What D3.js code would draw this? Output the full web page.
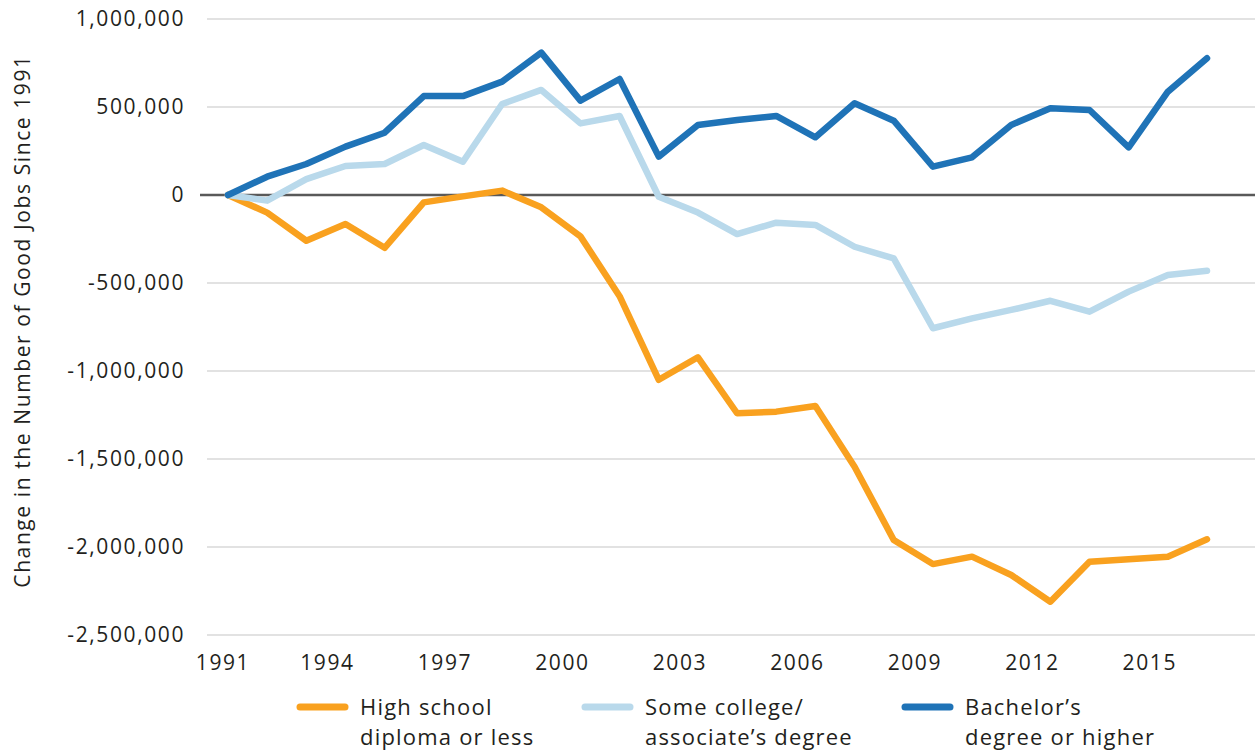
<!DOCTYPE html>
<html>
<head>
<meta charset="utf-8">
<script src="https://cdn.jsdelivr.net/npm/d3@7"></script>
<style>
  body { margin: 0; background: #fff; }
  text { font-family: "Open Sans", sans-serif; fill: #231f20; letter-spacing: 1.6px; }
</style>
</head>
<body>
<div id="chart"></div>
<script>
// years on the x axis
const years = d3.range(1991, 2017)
// the three series, change in good jobs since 1991
const highSchool = [0, -100000, -260000, -165000, -300000, -42000, -8000, 25000, -70000, -235000,
  -575000, -1050000, -922000, -1240000, -1231000, -1199000, -1544000, -1960000, -2097000, -2055000,
  -2159000, -2311000, -2084000, -2070000, -2055000, -1956000]
const someCollege = [0, -32000, 90000, 165000, 176000, 284000, 189000, 517000, 597000, 407000,
  449000, -10000, -100000, -222000, -157000, -170000, -294000, -360000, -757000, -701000,
  -653000, -601000, -663000, -549000, -455000, -430000]
const bachelors = [0, 104000, 176000, 275000, 354000, 562000, 562000, 644000, 809000, 536000,
  659000, 218000, 398000, 426000, 449000, 328000, 521000, 422000, 161000, 214000,
  398000, 493000, 483000, 271000, 587000, 777000]
const seriesNames = [["High school", "diploma or less"], ["Some college/", "associate\u2019s degree"], ["Bachelor\u2019s", "degree or higher"]]
const seriesColors = ["#f9a11f", "#b9d9eb", "#1f73b7"]
const yTicks = [1000000, 500000, 0, -500000, -1000000, -1500000, -2000000, -2500000]
const xTicks = [1991, 1994, 1997, 2000, 2003, 2006, 2009, 2012, 2015]

const width = 1255
const height = 750

const svg = d3.select('#chart').append('svg')
  .attr('width', width)
  .attr('height', height)

const xScale = d3.scaleLinear().domain([1991, 2016]).range([228, 1207])
const yScale = d3.scaleLinear().domain([-2500000, 1000000]).range([635, 19])

// gridlines
svg.append('g').selectAll('line')
  .data(yTicks.filter(d => d !== 0))
  .join('line')
  .attr('x1', 207).attr('x2', width)
  .attr('y1', d => yScale(d)).attr('y2', d => yScale(d))
  .attr('stroke', '#d9d9d9').attr('stroke-width', 1.5)

// zero line
svg.append('line')
  .attr('x1', 200).attr('x2', width)
  .attr('y1', yScale(0)).attr('y2', yScale(0))
  .attr('stroke', '#595959').attr('stroke-width', 2.5)

// y tick labels
const fmt = d3.format(',')
svg.append('g').selectAll('text')
  .data(yTicks)
  .join('text')
  .attr('x', 185)
  .attr('y', d => yScale(d))
  .attr('dy', '0.35em')
  .attr('text-anchor', 'end')
  .attr('font-size', 21)
  .text(d => d === 0 ? '0' : fmt(d).replace('\u2212', '-'))

// x tick labels, sit a little left of the points like the original
svg.append('g').selectAll('text')
  .data(xTicks)
  .join('text')
  .attr('x', d => d === 1991 ? xScale(d) - 5 : xScale(d) - 18)
  .attr('y', 670)
  .attr('text-anchor', 'middle')
  .attr('font-size', 21)
  .text(d => d)

// y axis title
svg.append('text')
  .attr('transform', 'translate(30 321) rotate(-90)')
  .attr('text-anchor', 'middle')
  .attr('font-size', 21)
  .text('Change in the Number of Good Jobs Since 1991')

// lines
const allSeries = [highSchool, someCollege, bachelors]
const line = d3.line()
  .x((d, i) => xScale(years[i]))
  .y(d => yScale(d))

svg.append('g').selectAll('path')
  .data(allSeries)
  .join('path')
  .attr('d', d => line(d))
  .attr('fill', 'none')
  .attr('stroke', (d, i) => seriesColors[i])
  .attr('stroke-width', 6.5)
  .attr('stroke-linejoin', 'round')
  .attr('stroke-linecap', 'round')

// legend
const legendX = [300, 585, 905]
const legend = svg.append('g').selectAll('g')
  .data(seriesNames)
  .join('g')
  .attr('transform', (d, i) => `translate(${legendX[i]} 707)`)

legend.append('line')
  .attr('x1', 0).attr('x2', 45)
  .attr('stroke', (d, i) => seriesColors[i])
  .attr('stroke-width', 7)
  .attr('stroke-linecap', 'round')

legend.append('text')
  .attr('x', 60)
  .attr('font-size', 22)
  .style('letter-spacing', '1.2px')
  .selectAll('tspan')
  .data(d => d)
  .join('tspan')
  .attr('x', 60)
  .attr('y', (d, i) => i * 30 + 8)
  .text(d => d)
</script>
</body>
</html>
